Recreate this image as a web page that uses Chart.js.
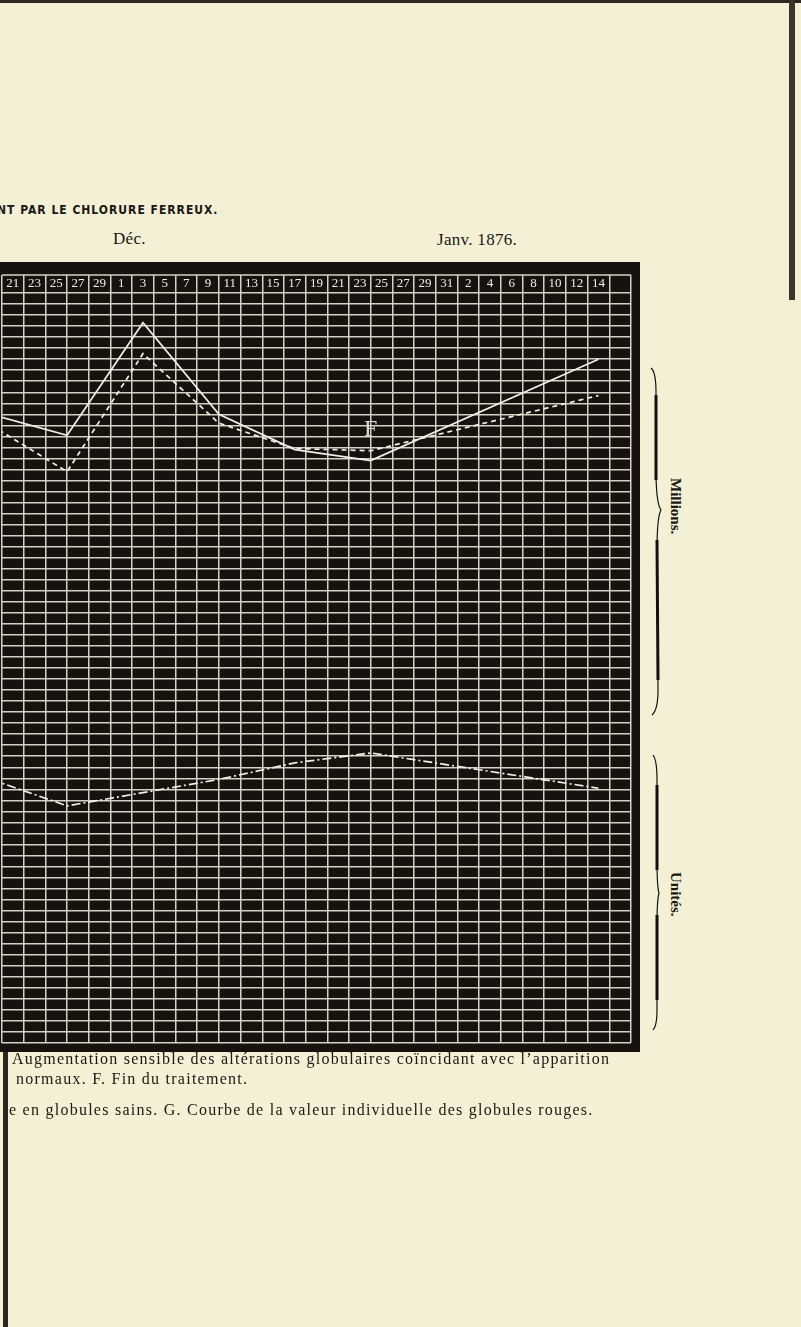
<!DOCTYPE html>
<html>
<head>
<meta charset="utf-8">
<script src="https://cdn.jsdelivr.net/npm/chart.js@4/dist/chart.umd.min.js"></script>
<style>
  html, body { margin: 0; padding: 0; }
  body {
    width: 801px; height: 1327px; position: relative; overflow: hidden;
    background: #f3f0d6;
    font-family: "Liberation Serif", "DejaVu Serif", serif;
    color: #1a1714;
  }
  .abs { position: absolute; white-space: nowrap; }
  #panel { position: absolute; left: 0; top: 262px; width: 640px; height: 790px; }
  .head { font-family: "Liberation Sans Narrow", "DejaVu Sans Condensed", "Liberation Sans", sans-serif;
          font-weight: bold; font-size: 12px; letter-spacing: 1.0px; }
  .month { font-size: 17px; letter-spacing: 0.3px; }
  .cap { font-size: 16px; line-height: 20px; letter-spacing: 1.25px; }
  .side { font-weight: bold; font-size: 15px; transform-origin: 0 0; transform: rotate(90deg); }
</style>
</head>
<body>
<div class="abs" style="left:0;top:0;width:801px;height:3px;background:#2a2622"></div>
<div class="abs" style="left:789px;top:0;width:6px;height:300px;background:#3a342c"></div>
<div class="abs" style="left:3px;top:1050px;width:5px;height:277px;background:#2a2622"></div>

<div class="abs head" style="left:-3px;top:203px;">NT PAR LE CHLORURE FERREUX.</div>
<div class="abs month" style="left:113px;top:229px;">Déc.</div>
<div class="abs month" style="left:437px;top:230px;">Janv. 1876.</div>

<div id="panel"><canvas id="chart"></canvas></div>

<div class="abs cap" style="left:12px;top:1049px;">Augmentation sensible des altérations globulaires coïncidant avec l’apparition</div>
<div class="abs cap" style="left:16px;top:1069px;">normaux. F. Fin du traitement.</div>
<div class="abs cap" style="left:9px;top:1100px;">e en globules sains. G. Courbe de la valeur individuelle des globules rouges.</div>

<svg class="abs" style="left:640px;top:0" width="60" height="1100">
  <path d="M651 368 Q656 372 656 392 L656 470 Q656 503 661 510 Q657 517 657 550 L658 690 Q658 710 652 715"
        transform="translate(-640,0)" fill="none" stroke="#111" stroke-width="1.2"/>
  <path d="M656 395 L656 480 M657 540 L658 680" transform="translate(-640,0)" fill="none" stroke="#111" stroke-width="3"/>
  <path d="M653 755 Q657 760 657 780 L657 860 Q657 887 659 893 Q657 900 657 925 L657 1010 Q657 1026 653 1030"
        transform="translate(-640,0)" fill="none" stroke="#111" stroke-width="1.2"/>
  <path d="M657 785 L657 870 M657 915 L657 1000" transform="translate(-640,0)" fill="none" stroke="#111" stroke-width="3"/>
</svg>
<div class="abs side" style="left:684px;top:478px;">Millions.</div>
<div class="abs side" style="left:684px;top:872px;">Unités.</div>

<script>
// days counted from 1 Nov (Dec d = 30 + d, Jan d = 61 + d)
const dayMin = 20;
const dayMax = 78;
const headerLabels = ["21", "23", "25", "27", "29", "1", "3", "5", "7", "9", "11", "13", "15",
    "17", "19", "21", "23", "25", "27", "29", "31", "2", "4", "6", "8", "10", "12", "14", ""];

// upper curves (millions), read in grid rows from the bottom line
const solidDays = [19, 26, 33, 40, 47, 54, 75];
const solidValues = [57.0, 55.1, 65.3, 57.0, 53.8, 52.8, 62.0];
const dashedDays = [19, 26, 33, 40, 47, 54, 75];
const dashedValues = [56.0, 51.8, 62.5, 56.2, 53.9, 53.7, 58.7];
// lower curve G (unités)
const curveGDays = [19, 26, 40, 47, 54, 75];
const curveGValues = [23.9, 21.5, 23.9, 25.4, 26.3, 23.1];

const finLabel = "F";
const finDay = 54;
const finLevel = 55.6;

const rows = 68;
const ink = "#f1efe6";
const gridInk = "#d4d2c4";
const panelBg = "#17120f";

function points(days, values) {
    return days.map((d, i) => ({ x: d, y: values[i] }));
}

const panelPlugin = {
    id: "panel",
    beforeDraw(chart) {
        const { ctx, width, height } = chart;
        ctx.save();
        ctx.fillStyle = panelBg;
        ctx.fillRect(0, 0, width, height);
        ctx.restore();
    },
    afterDraw(chart) {
        const { ctx, chartArea, scales } = chart;
        const top = chartArea.top - scales.x.options.grid.tickLength;
        ctx.save();
        ctx.strokeStyle = gridInk;
        ctx.lineWidth = 1.5;
        ctx.beginPath();
        ctx.moveTo(chartArea.left, top);
        ctx.lineTo(chartArea.right, top);
        ctx.stroke();
        // "F" marks the end of the treatment
        ctx.fillStyle = "#dcd9ce";
        ctx.font = "24px 'Liberation Serif', serif";
        ctx.textAlign = "center";
        ctx.textBaseline = "middle";
        ctx.fillText(finLabel, scales.x.getPixelForValue(finDay), scales.y.getPixelForValue(finLevel));
        ctx.restore();
    }
};

const canvas = document.getElementById("chart");
new Chart(canvas.getContext("2d"), {
    type: "line",
    data: {
        datasets: [
            {
                label: "solid",
                data: points(solidDays, solidValues),
                borderColor: ink,
                borderWidth: 1.7,
                pointRadius: 0,
                tension: 0,
            },
            {
                label: "dashed",
                data: points(dashedDays, dashedValues),
                borderColor: ink,
                borderWidth: 1.7,
                borderDash: [5, 4],
                pointRadius: 0,
                tension: 0,
            },
            {
                label: "G",
                data: points(curveGDays, curveGValues),
                borderColor: ink,
                borderWidth: 1.7,
                borderDash: [9, 3, 2, 3],
                pointRadius: 0,
                tension: 0,
            },
        ],
    },
    options: {
        responsive: true,
        maintainAspectRatio: false,
        animation: false,
        events: [],
        layout: { padding: { left: 2, right: 9, top: 13, bottom: 9 } },
        scales: {
            x: {
                type: "linear",
                position: "top",
                min: dayMin,
                max: dayMax,
                afterBuildTicks: scale => {
                    const ticks = [];
                    for (let d = dayMin; d <= dayMax; d++) ticks.push({ value: d });
                    scale.ticks = ticks;
                },
                afterFit: scale => { scale.height = 18; },
                grid: {
                    color: c => (c.tick && c.tick.value % 2 === 0) ? gridInk : "rgba(0,0,0,0)",
                    tickColor: c => (c.tick && c.tick.value % 2 === 0) ? gridInk : "rgba(0,0,0,0)",
                    lineWidth: 1.5,
                    tickLength: 18,
                },
                border: { display: false },
                ticks: {
                    autoSkip: false,
                    maxRotation: 0,
                    padding: -16,
                    color: ink,
                    font: { family: "'Liberation Serif', serif", size: 13 },
                    callback: v => (v % 2 === 1) ? headerLabels[(v - 21) / 2] : "",
                },
            },
            y: {
                min: 0,
                max: rows,
                ticks: { display: false, stepSize: 1 },
                grid: { color: gridInk, lineWidth: 1.5, drawTicks: false },
                border: { display: false },
            },
        },
        plugins: {
            legend: { display: false },
            tooltip: { enabled: false },
        },
    },
    plugins: [panelPlugin],
});
</script>
</body>
</html>
